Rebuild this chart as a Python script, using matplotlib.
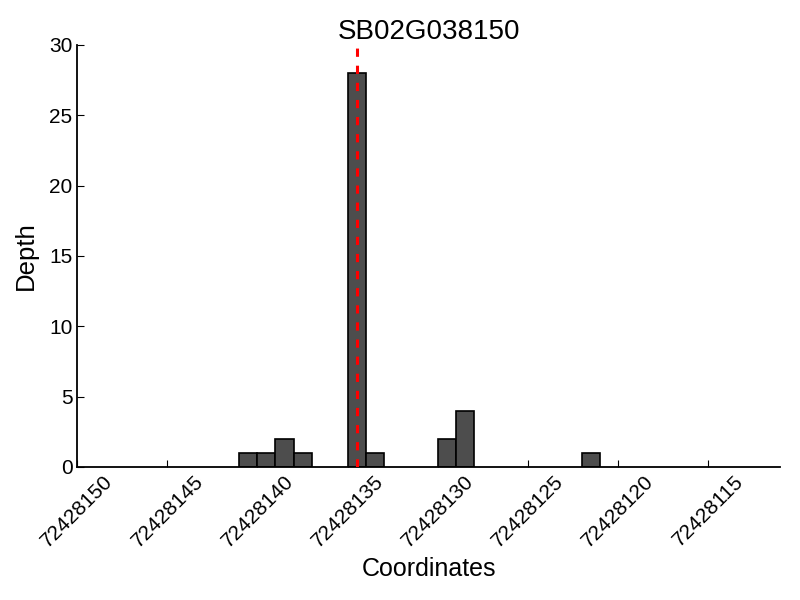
import numpy as np
import matplotlib
matplotlib.use("Agg")
import matplotlib.pyplot as plt

plt.rcParams['font.family'] = ['Liberation Sans', 'DejaVu Sans']

gene = "SB02G038150"
positions = [72428140, 72428139, 72428138, 72428137, 72428134, 72428133,
             72428129, 72428128, 72428121]
depths = [1, 1, 2, 1, 28, 1, 2, 4, 1]
site = 72428134.5
xticks = [72428150, 72428145, 72428140, 72428135, 72428130, 72428125,
          72428120, 72428115]
yticks = [0, 5, 10, 15, 20, 25, 30]

fig = plt.figure(figsize=(8, 6), dpi=100)
ax = fig.add_axes([0.0966, 0.2217, 0.8784, 0.7033])

ax.bar(positions, depths, width=1, align='edge', color='#4d4d4d',
       edgecolor='black', linewidth=1.2, zorder=2)
ax.plot([site, site], [0, 30], color='red', linestyle='--', linewidth=2.2,
        dashes=(2.7, 2.9), zorder=3)

ax.set_xlim(72428150, 72428111)
ax.set_ylim(0, 30)
ax.set_xticks(xticks)
ax.set_xticklabels([str(t) for t in xticks], rotation=45, fontsize=15)
ax.set_yticks(yticks)
ax.set_yticklabels([str(t) for t in yticks], fontsize=15)
ax.tick_params(direction='in', length=5, width=0.8, top=False, right=False)

for s in ['top', 'right']:
    ax.spines[s].set_visible(False)
for s in ['left', 'bottom']:
    ax.spines[s].set_linewidth(1.3)

ax.set_xlabel('Coordinates', fontsize=18, labelpad=4)
ax.set_ylabel('Depth', fontsize=18.5, labelpad=8)
ax.set_title(gene, fontsize=20, pad=3)

fig.savefig('out.png', dpi=100)
